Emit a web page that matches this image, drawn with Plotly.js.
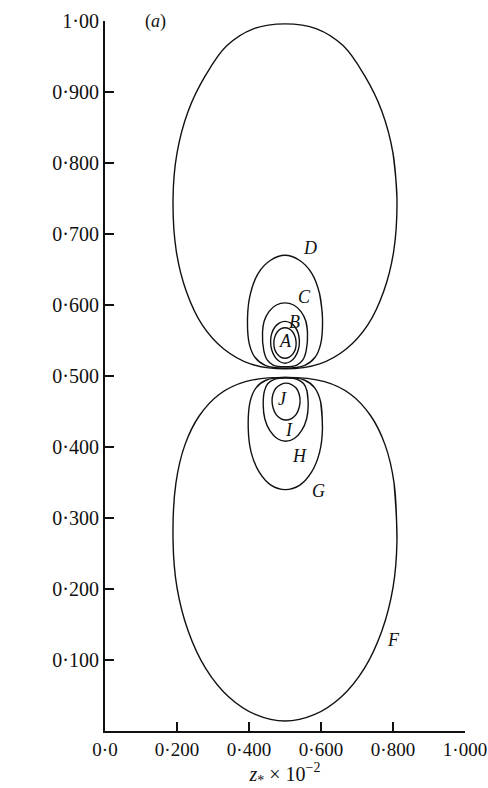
<!DOCTYPE html>
<html>
<head>
<meta charset="utf-8">
<script src="https://cdn.plot.ly/plotly-3.0.1.min.js"></script>
<style>
  html, body { margin: 0; padding: 0; background: #fff; }
  #chart { width: 488px; height: 788px; }
</style>
</head>
<body>
<div id="chart"></div>
<script>
// Closed contour curves in the (z*, x*) plane, listed as traced points
// (counter-clockwise, starting at the right-hand extreme of each loop).
// Upper family (A, B, C, D, F) touches near x* = 0.51; lower family (J, I, G, F) near x* = 0.50.

const A_z = [0.531, 0.529, 0.522, 0.512, 0.500, 0.488, 0.478, 0.471, 0.469, 0.471, 0.478, 0.488, 0.500, 0.512, 0.522, 0.529];
const A_x = [0.546, 0.554, 0.5616, 0.5663, 0.568, 0.5663, 0.5616, 0.554, 0.546, 0.538, 0.5312, 0.5266, 0.525, 0.5266, 0.5312, 0.538];

const B_z = [0.540, 0.537, 0.528, 0.515, 0.500, 0.485, 0.472, 0.463, 0.460, 0.463, 0.472, 0.485, 0.500, 0.515, 0.528, 0.537];
const B_x = [0.549, 0.5597, 0.569, 0.5749, 0.577, 0.5749, 0.569, 0.5597, 0.549, 0.537, 0.527, 0.5204, 0.518, 0.5204, 0.527, 0.537];

const C_z = [0.5625, 0.558, 0.544, 0.524, 0.500, 0.476, 0.456, 0.442, 0.4375, 0.441, 0.450, 0.467, 0.500, 0.533, 0.550, 0.559];
const C_x = [0.561, 0.577, 0.591, 0.600, 0.603, 0.600, 0.591, 0.577, 0.561, 0.536, 0.523, 0.5154, 0.513, 0.5154, 0.523, 0.536];

const D_z = [0.604, 0.596, 0.574, 0.540, 0.500, 0.460, 0.426, 0.404, 0.396, 0.401, 0.417, 0.445, 0.500, 0.555, 0.583, 0.599];
const D_x = [0.583, 0.616, 0.645, 0.663, 0.670, 0.663, 0.645, 0.616, 0.583, 0.545, 0.526, 0.515, 0.511, 0.515, 0.526, 0.545];

const Fup_z = [0.811, 0.800, 0.769, 0.720, 0.662, 0.588, 0.500, 0.412, 0.338, 0.280, 0.231, 0.200,
               0.189, 0.198, 0.226, 0.270, 0.330, 0.404, 0.500, 0.596, 0.670, 0.730, 0.774, 0.802];
const Fup_x = [0.750, 0.814, 0.873, 0.924, 0.965, 0.989, 0.996, 0.989, 0.965, 0.924, 0.873, 0.814,
               0.750, 0.676, 0.619, 0.572, 0.538, 0.517, 0.510, 0.517, 0.538, 0.572, 0.619, 0.676];

const J_z = [0.542, 0.539, 0.531, 0.518, 0.503, 0.488, 0.475, 0.467, 0.464, 0.467, 0.475, 0.488, 0.503, 0.518, 0.531, 0.539];
const J_x = [0.466, 0.475, 0.483, 0.488, 0.490, 0.488, 0.483, 0.475, 0.466, 0.455, 0.446, 0.440, 0.438, 0.440, 0.446, 0.455];

const I_z = [0.5645, 0.561, 0.552, 0.535, 0.502, 0.469, 0.452, 0.443, 0.4395, 0.444, 0.458, 0.478, 0.502, 0.526, 0.546, 0.560];
const I_x = [0.459, 0.479, 0.489, 0.495, 0.497, 0.495, 0.489, 0.479, 0.459, 0.4395, 0.423, 0.412, 0.408, 0.412, 0.423, 0.4395];

const G_z = [0.604, 0.599, 0.583, 0.555, 0.501, 0.447, 0.419, 0.403, 0.398, 0.406, 0.428, 0.462, 0.501, 0.540, 0.574, 0.596];
const G_x = [0.425, 0.4635, 0.483, 0.494, 0.498, 0.494, 0.483, 0.4635, 0.425, 0.3925, 0.365, 0.346, 0.340, 0.346, 0.365, 0.3925];

const Flow_z = [0.811, 0.803, 0.778, 0.738, 0.683, 0.610, 0.500, 0.390, 0.317, 0.262, 0.222, 0.197,
                0.189, 0.200, 0.231, 0.280, 0.344, 0.419, 0.500, 0.581, 0.656, 0.720, 0.769, 0.800];
const Flow_x = [0.268, 0.349, 0.403, 0.444, 0.474, 0.492, 0.498, 0.492, 0.474, 0.444, 0.403, 0.349,
                0.268, 0.202, 0.141, 0.088, 0.048, 0.023, 0.014, 0.023, 0.048, 0.088, 0.141, 0.202];

// Curve labels and where they sit
const labelText = ['F', 'D', 'C', 'B', 'A', 'J', 'I', 'H', 'G', 'F'];
const labelZ    = [0.542, 0.569, 0.553, 0.525, 0.500, 0.494, 0.512, 0.539, 0.594, 0.800];
const labelX    = [1.013, 0.680, 0.611, 0.576, 0.549, 0.467, 0.424, 0.387, 0.338, 0.128];

// Axis ticks
const zTickVals = [0, 0.2, 0.4, 0.6, 0.8, 1.0];
const zTickText = ['0·0', '0·200', '0·400', '0·600', '0·800', '1·000'];
const xTickVals = [0.1, 0.2, 0.3, 0.4, 0.5, 0.6, 0.7, 0.8, 0.9, 1.0];
const xTickText = ['0·100', '0·200', '0·300', '0·400', '0·500', '0·600', '0·700', '0·800', '0·900', '1·00'];

const SERIF = '"Liberation Serif", "Times New Roman", serif';
const INK = '#111';

// Close a loop: wrap around by two points so the spline joins smoothly
function closed(zs, xs, name) {
  return {
    type: 'scatter',
    mode: 'lines',
    name: name,
    x: zs.concat([zs[0], zs[1]]),
    y: xs.concat([xs[0], xs[1]]),
    line: { color: INK, width: 1.4, shape: 'spline', smoothing: 1 },
    hoverinfo: 'skip',
    cliponaxis: false
  };
}

const traces = [
  closed(Fup_z, Fup_x, 'F'),
  closed(D_z, D_x, 'D'),
  closed(C_z, C_x, 'C'),
  closed(B_z, B_x, 'B'),
  closed(A_z, A_x, 'A'),
  closed(Flow_z, Flow_x, 'F'),
  closed(G_z, G_x, 'G'),
  closed(I_z, I_x, 'I'),
  closed(J_z, J_x, 'J')
];

const annotations = labelText.map((t, i) => ({
  x: labelZ[i], y: labelX[i], xref: 'x', yref: 'y',
  text: '<i>' + t + '</i>', showarrow: false,
  font: { family: SERIF, size: 18, color: INK }
}));

annotations.push({
  x: 0.14, y: 1.0, xref: 'x', yref: 'y',
  text: '(<i>a</i>)', showarrow: false,
  font: { family: SERIF, size: 18, color: INK }
});

annotations.push({
  x: -0.236, y: 0.505, xref: 'x', yref: 'y',
  text: '<i>x</i><sub>*</sub>', showarrow: false,
  font: { family: SERIF, size: 21, color: INK }
});

const layout = {
  width: 488,
  height: 788,
  margin: { l: 105, r: 23, t: 21, b: 57 },
  paper_bgcolor: '#fff',
  plot_bgcolor: '#fff',
  showlegend: false,
  font: { family: SERIF, size: 20, color: INK },
  xaxis: {
    range: [0, 1],
    showgrid: false, zeroline: false,
    showline: true, linecolor: INK, linewidth: 2,
    ticks: 'inside', ticklen: 9, tickwidth: 1.5, tickcolor: INK,
    tickmode: 'array', tickvals: zTickVals, ticktext: zTickText,
    tickfont: { family: SERIF, size: 19, color: INK },
    ticklabeloverflow: 'allow',
    title: {
      text: '<i>z</i><sub>*</sub> × 10<sup>−2</sup>',
      font: { family: SERIF, size: 20, color: INK },
      standoff: 8
    },
    fixedrange: true
  },
  yaxis: {
    range: [0, 1],
    showgrid: false, zeroline: false,
    showline: true, linecolor: INK, linewidth: 2,
    ticks: 'inside', ticklen: 9, tickwidth: 1.5, tickcolor: INK,
    tickmode: 'array', tickvals: xTickVals, ticktext: xTickText,
    tickfont: { family: SERIF, size: 20, color: INK },
    fixedrange: true
  },
  annotations: annotations
};

Plotly.newPlot('chart', traces, layout, { displayModeBar: false, staticPlot: true });
</script>
</body>
</html>
